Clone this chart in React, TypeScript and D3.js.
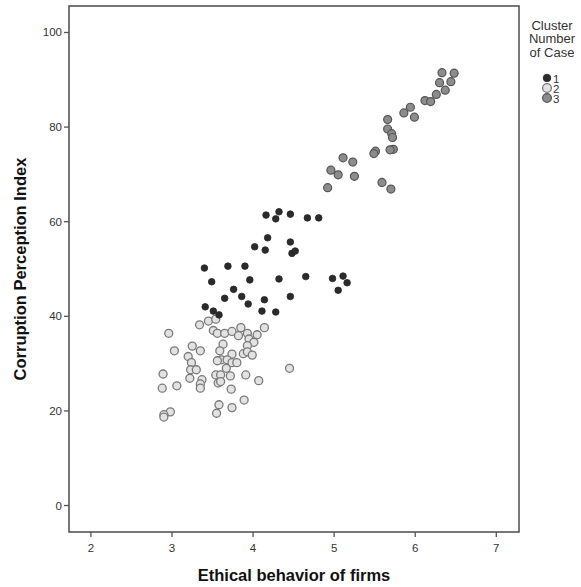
import React from "react";
import * as d3 from "d3";

const cluster1X = [4.16, 4.32, 4.28, 4.46, 4.67, 4.81, 4.18, 4.02, 4.15, 4.46, 4.48, 4.52, 3.40, 3.69, 3.90, 3.49, 3.96, 4.32, 4.65, 4.98, 5.11, 5.16, 5.05, 3.76, 3.65, 3.86, 3.94, 4.14, 4.46, 4.11, 4.28, 3.41, 3.51, 3.58];
const cluster1Y = [61.4, 62.1, 60.6, 61.6, 60.8, 60.8, 56.6, 54.7, 54.0, 55.7, 53.3, 53.8, 50.2, 50.6, 50.6, 47.3, 47.7, 47.9, 48.4, 48.0, 48.5, 47.1, 45.5, 45.7, 43.8, 44.2, 42.6, 43.5, 44.2, 41.1, 40.9, 42.0, 41.1, 40.3];

const cluster2X = [3.34, 3.45, 3.54, 2.96, 3.51, 3.56, 3.65, 3.74, 3.85, 3.82, 3.93, 4.05, 4.14, 3.95, 4.01, 3.63, 3.93, 3.25, 3.03, 3.35, 3.59, 3.20, 3.74, 3.88, 3.93, 3.99, 3.61, 3.56, 3.68, 3.74, 3.80, 3.24, 3.67, 4.45, 2.89, 3.23, 3.30, 3.22, 3.37, 3.35, 3.35, 3.54, 3.60, 3.72, 3.91, 4.07, 3.57, 3.60, 3.06, 2.88, 3.73, 3.89, 3.58, 3.74, 3.55, 2.98, 2.90, 2.90];
const cluster2Y = [38.2, 39.0, 39.4, 36.4, 37.0, 36.4, 36.4, 36.8, 37.6, 35.9, 36.4, 36.1, 37.6, 35.2, 34.5, 34.1, 33.8, 33.7, 32.7, 32.7, 32.7, 31.5, 32.0, 32.1, 32.5, 31.8, 30.8, 30.6, 30.8, 30.2, 30.2, 30.2, 29.0, 29.0, 27.8, 28.7, 28.7, 26.9, 26.6, 25.7, 24.8, 27.6, 27.6, 27.4, 27.6, 26.4, 25.9, 26.2, 25.3, 24.8, 24.6, 22.3, 21.3, 20.7, 19.5, 19.8, 19.2, 18.7];

const cluster3X = [6.33, 6.48, 6.30, 6.44, 6.37, 6.26, 6.12, 6.19, 5.94, 5.86, 5.99, 5.66, 5.66, 5.71, 5.72, 5.73, 5.69, 5.51, 5.49, 5.11, 5.23, 4.96, 5.05, 5.25, 4.92, 5.59, 5.70];
const cluster3Y = [91.5, 91.4, 89.4, 89.6, 87.8, 86.9, 85.6, 85.4, 84.2, 83.0, 82.1, 81.6, 79.6, 78.6, 77.8, 75.3, 75.2, 74.9, 74.4, 73.5, 72.6, 70.9, 69.9, 69.6, 67.2, 68.3, 66.9];

const xTicks = [2, 3, 4, 5, 6, 7];
const yTicks = [0, 20, 40, 60, 80, 100];
const clusterLabels = ["1", "2", "3"];
const legendTitle = ["Cluster", "Number", "of Case"];

const styles = [
  { fill: "#2b2b2b", stroke: "#262626", r: 3.3, sw: 0.8 },
  { fill: "#e2e2e2", stroke: "#7a7a7a", r: 4.0, sw: 1.3 },
  { fill: "#8c8c8c", stroke: "#555555", r: 4.0, sw: 1.2 },
];

export default function App() {
  const left = 69, right = 519, top = 6, bottom = 532;
  const x = d3.scaleLinear().domain([1.73, 7.28]).range([left, right]);
  const y = d3.scaleLinear().domain([-5.6, 105.6]).range([bottom, top]);
  const font = "'Liberation Sans', Arial, sans-serif";

  const series = [
    { xs: cluster2X, ys: cluster2Y, s: styles[1] },
    { xs: cluster1X, ys: cluster1Y, s: styles[0] },
    { xs: cluster3X, ys: cluster3Y, s: styles[2] },
  ];

  return (
    <svg width={581} height={587} style={{ position: "absolute", left: 0, top: 0, background: "#fff" }} fontFamily={font}>
      <rect x={0} y={0} width={581} height={587} fill="#fff" />
      {series.map((se, si) =>
        se.xs.map((xv, i) => (
          <circle key={`${si}-${i}`} cx={x(xv)} cy={y(se.ys[i])} r={se.s.r} fill={se.s.fill} stroke={se.s.stroke} strokeWidth={se.s.sw} />
        ))
      )}
      <rect x={left} y={top} width={right - left} height={bottom - top} fill="none" stroke="#555" strokeWidth={1.6} />
      {xTicks.map((t) => (
        <g key={`xt${t}`}>
          <line x1={x(t)} x2={x(t)} y1={bottom} y2={bottom + 5} stroke="#555" strokeWidth={1.3} />
          <text x={x(t)} y={bottom + 20} textAnchor="middle" fontSize={11.5} fill="#333">{t}</text>
        </g>
      ))}
      {yTicks.map((t) => (
        <g key={`yt${t}`}>
          <line x1={left - 5} x2={left} y1={y(t)} y2={y(t)} stroke="#555" strokeWidth={1.3} />
          <text x={left - 7} y={y(t) + 4} textAnchor="end" fontSize={11.5} fill="#333">{t}</text>
        </g>
      ))}
      <text x={(left + right) / 2} y={581} textAnchor="middle" fontSize={16.5} fontWeight="bold" fill="#111">Ethical behavior of firms</text>
      <text transform={`translate(26, ${(top + bottom) / 2}) rotate(-90)`} textAnchor="middle" fontSize={16.5} fontWeight="bold" fill="#111">Corruption Perception Index</text>
      {legendTitle.map((l, i) => (
        <text key={l} x={552} y={30 + i * 13.3} textAnchor="middle" fontSize={13} fill="#333">{l}</text>
      ))}
      {clusterLabels.map((l, i) => (
        <g key={`lg${l}`}>
          <circle cx={547} cy={78 + i * 10} r={i === 0 ? 3.8 : 4.4} fill={styles[i].fill} stroke={styles[i].stroke} strokeWidth={styles[i].sw} />
          <text x={553} y={82.5 + i * 10} fontSize={11.5} fill="#333">{l}</text>
        </g>
      ))}
    </svg>
  );
}
